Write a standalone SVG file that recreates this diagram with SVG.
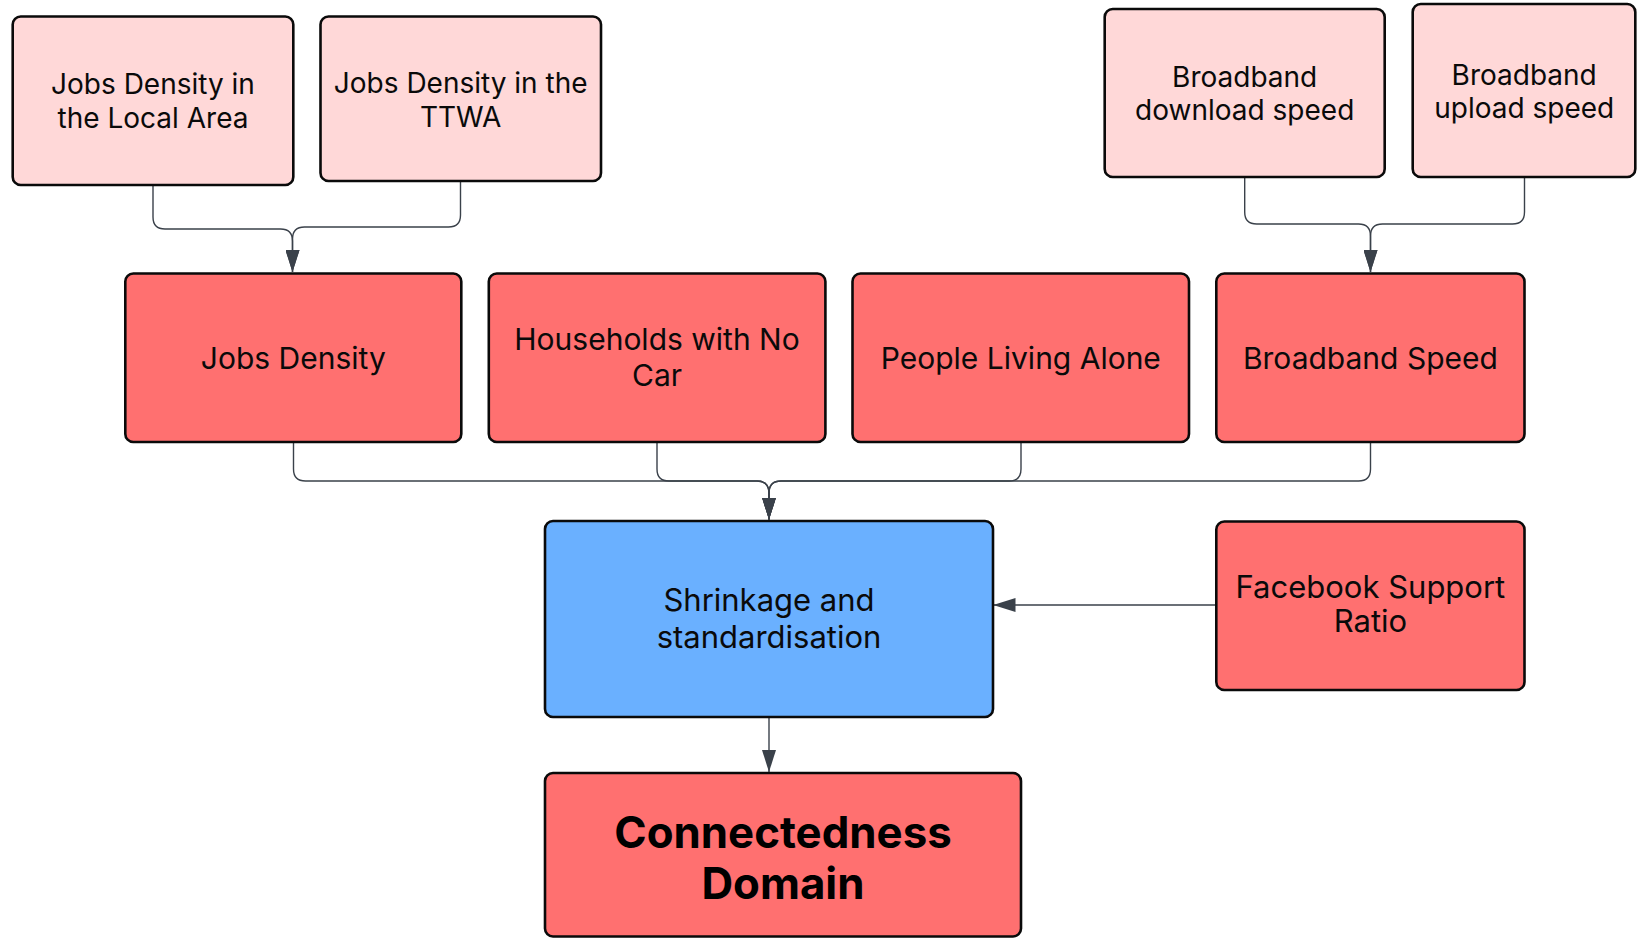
<svg xmlns="http://www.w3.org/2000/svg" width="1637" height="938" viewBox="0 0 1637 938">
<defs>
<style>
.bx{stroke:#0a0a0a;stroke-width:2.6}
.pink{fill:#FFD8D8}
.red{fill:#FF7070}
.blue{fill:#6AB0FF}
text{font-family:Inter,"Liberation Sans",sans-serif;fill:#0a0a0a;text-anchor:middle}
.t28{font-size:28px}
.t30{font-size:30px}
.t31{font-size:31px}
.big{font-size:43.8px;font-weight:700;fill:#000}
.cn{fill:none;stroke:#3a414a;stroke-width:1.4;marker-end:url(#ah)}
</style>
<marker id="ah" markerUnits="userSpaceOnUse" markerWidth="22" markerHeight="14" refX="22" refY="7" orient="auto">
<path d="M0,0 L22,7 L0,14 z" fill="#3a414a"/>
</marker>
</defs>
<rect width="1637" height="938" fill="#fff"/>
<g id="connectors">
<path class="cn" d="M153,185 V217 Q153,229 165,229 H280.5 Q292.5,229 292.5,241 V272"/>
<path class="cn" d="M460.5,181 V215 Q460.5,227 448.5,227 H304.5 Q292.5,227 292.5,239 V272"/>
<path class="cn" d="M1244.7,177 V212 Q1244.7,224 1256.7,224 H1358.5 Q1370.5,224 1370.5,236 V272"/>
<path class="cn" d="M1524.5,177 V212 Q1524.5,224 1512.5,224 H1382.5 Q1370.5,224 1370.5,236 V272"/>
<path class="cn" d="M293.5,442 V469 Q293.5,481 305.5,481 H757 Q769,481 769,493 V519.5"/>
<path class="cn" d="M657,442 V469 Q657,481 669,481 H757 Q769,481 769,493 V519.5"/>
<path class="cn" d="M1021,442 V469 Q1021,481 1009,481 H781 Q769,481 769,493 V519.5"/>
<path class="cn" d="M1370.5,442 V469 Q1370.5,481 1358.5,481 H781 Q769,481 769,493 V519.5"/>
<path class="cn" d="M1216,605 H993.5"/>
<path class="cn" d="M769,717 V772"/>
</g>
<g id="n-jobs-local"><rect class="bx pink" x="12.7" y="16.5" width="280.6" height="168.5" rx="8"/>
<text class="t28" x="153" y="94.3">Jobs Density in</text><text class="t28" x="153" y="128.3">the Local Area</text></g>
<g id="n-jobs-ttwa"><rect class="bx pink" x="320.5" y="16.5" width="280.5" height="164.5" rx="8"/>
<text class="t28" x="460.7" y="93">Jobs Density in the</text><text class="t28" x="460.7" y="126.7">TTWA</text></g>
<g id="n-bb-down"><rect class="bx pink" x="1104.7" y="9" width="280" height="168" rx="8"/>
<text class="t28" x="1244.7" y="86.7">Broadband</text><text class="t28" x="1244.7" y="120.3">download speed</text></g>
<g id="n-bb-up"><rect class="bx pink" x="1412.7" y="4" width="222.6" height="173" rx="8"/>
<text class="t28" x="1524.2" y="85">Broadband</text><text class="t28" x="1524.2" y="118.3">upload speed</text></g>
<g id="n-jobs"><rect class="bx red" x="125.3" y="273.5" width="336" height="168.5" rx="8"/>
<text class="t30" x="293.3" y="368.5">Jobs Density</text></g>
<g id="n-households"><rect class="bx red" x="488.8" y="273.5" width="336.6" height="168.5" rx="8"/>
<text class="t30" x="657" y="350">Households with No</text><text class="t30" x="657" y="386">Car</text></g>
<g id="n-people"><rect class="bx red" x="852.5" y="273.5" width="336.5" height="168.5" rx="8"/>
<text class="t30" x="1020.8" y="368.5">People Living Alone</text></g>
<g id="n-broadband"><rect class="bx red" x="1216.3" y="273.5" width="308.2" height="168.5" rx="8"/>
<text class="t30" x="1370.4" y="368.5">Broadband Speed</text></g>
<g id="n-shrink"><rect class="bx blue" x="545" y="521" width="448" height="196" rx="8"/>
<text class="t31" x="769" y="611">Shrinkage and</text><text class="t31" x="769" y="648.3">standardisation</text></g>
<g id="n-facebook"><rect class="bx red" x="1216.3" y="521.5" width="308.2" height="168.5" rx="8"/>
<text class="t31" x="1370.4" y="598.3">Facebook Support</text><text class="t31" x="1370.4" y="631.7">Ratio</text></g>
<g id="n-connectedness"><rect class="bx red" x="545" y="773" width="476" height="163.5" rx="8"/>
<text class="big" x="783" y="847.5">Connectedness</text><text class="big" x="783" y="898.5">Domain</text></g>
</svg>
